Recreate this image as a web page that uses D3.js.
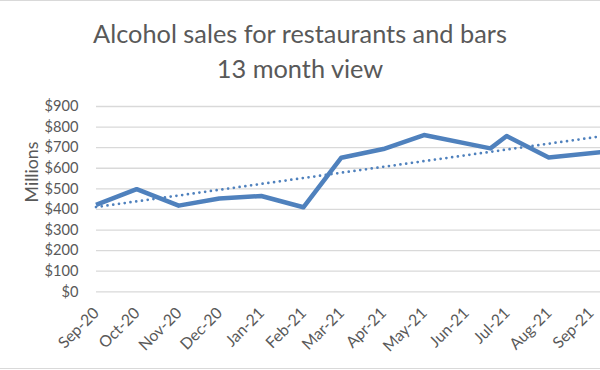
<!DOCTYPE html>
<html lang="en">
<head>
    <meta charset="UTF-8">
    <title>Alcohol sales for restaurants and bars</title>
    <style>
        body {
            margin: 0;
            background: #fff;
        }
        svg {
            display: block;
            font-family: Lato, "Open Sans", sans-serif;
        }
        .grid line {
            stroke: #d9d9d9;
            stroke-width: 1.3px;
        }
        .label {
            fill: #595959;
        }
    </style>
</head>
<body>
    <div id="chart"></div>

    <script src="https://d3js.org/d3.v7.min.js"></script>
    <script>
        // chart data (values in $ millions)
        const dates = ["2020-09-01", "2020-10-01", "2020-11-01", "2020-12-01", "2021-01-01", "2021-02-01",
                       "2021-03-01", "2021-04-01", "2021-05-01", "2021-06-19", "2021-07-01", "2021-08-01", "2021-09-20"];
        const sales = [420, 496, 416, 451, 463, 408, 649, 691, 759, 694, 754, 650, 683];
        const yTicks = [0, 100, 200, 300, 400, 500, 600, 700, 800, 900];
        const titleLines = ["Alcohol sales for restaurants and bars", "13 month view"];
        const axisStart = "2020-09-01";
        const axisEnd = "2021-09-01";

        const width = 600, height = 370;
        const parse = d3.timeParse("%Y-%m-%d");
        const data = dates.map((d, i) => ({ date: parse(d), value: sales[i] }));

        const svg = d3.select("#chart").append("svg")
            .attr("width", width)
            .attr("height", height);

        // frame of the chart (cropped in the original)
        svg.append("rect")
            .attr("x", -5).attr("y", 0.5)
            .attr("width", width + 10).attr("height", 368)
            .attr("fill", "none")
            .attr("stroke", "#d9d9d9");

        // scales
        const x = d3.scaleTime()
            .domain([parse(axisStart), parse(axisEnd)])
            .range([96, 590.7]);
        const y = d3.scaleLinear()
            .domain([0, 900])
            .range([291.3, 106]);

        // scale a font so that a sample text gets a given width
        function fitSize(sample, size, target) {
            const t = svg.append("text").attr("font-size", size).text(sample);
            const w = t.node().getComputedTextLength();
            t.remove();
            return size * target / w;
        }

        // gridlines
        svg.append("g")
            .attr("class", "grid")
            .attr("transform", "translate(96,0)")
            .call(d3.axisLeft(y).tickValues(yTicks).tickSize(-(width - 96 + 10)).tickFormat(""))
            .call(g => g.select(".domain").remove());

        // y tick labels
        const yFont = fitSize("$900", 15, 34);
        svg.append("g")
            .selectAll("text")
            .data(yTicks)
            .join("text")
            .attr("class", "label")
            .attr("x", 78.5)
            .attr("y", d => y(d))
            .attr("dy", "0.36em")
            .attr("text-anchor", "end")
            .attr("font-size", yFont)
            .text(d => d3.format("$,")(d));

        // y axis title
        const mFont = fitSize("Millions", 16, 61);
        svg.append("text")
            .attr("class", "label")
            .attr("transform", "translate(38,172) rotate(-90)")
            .attr("text-anchor", "middle")
            .attr("font-size", mFont)
            .text("Millions");

        // x tick labels, rotated
        const months = d3.timeMonth.range(parse(axisStart), d3.timeDay.offset(parse(axisEnd), 1));
        const xFont = fitSize("Sep-20", 16, 50);
        svg.append("g")
            .selectAll("text")
            .data(months)
            .join("text")
            .attr("class", "label")
            .attr("transform", d => `translate(${x(d) + 4},314) rotate(-45)`)
            .attr("text-anchor", "end")
            .attr("font-size", xFont)
            .text(d3.timeFormat("%b-%y"));

        // linear trendline (least squares on day number)
        const t0 = data[0].date;
        const days = data.map(d => d3.timeDay.count(t0, d.date));
        const mx = d3.mean(days), my = d3.mean(sales);
        const slope = d3.sum(days, (d, i) => (d - mx) * (sales[i] - my)) / d3.sum(days, d => (d - mx) * (d - mx));
        const intercept = my - slope * mx;
        const trend = [data[0].date, data[data.length - 1].date].map(d => ({
            date: d,
            value: intercept + slope * d3.timeDay.count(t0, d)
        }));

        const line = d3.line()
            .x(d => x(d.date))
            .y(d => y(d.value));

        svg.append("path")
            .datum(data)
            .attr("d", line)
            .attr("fill", "none")
            .attr("stroke", "#4f81bd")
            .attr("stroke-width", 4.5)
            .attr("stroke-linejoin", "round");

        svg.append("path")
            .datum(trend)
            .attr("d", line)
            .attr("fill", "none")
            .attr("stroke", "#4f81bd")
            .attr("stroke-width", 2.75)
            .attr("stroke-linecap", "round")
            .attr("stroke-dasharray", "0 5.8");

        // title
        const tFont = fitSize(titleLines[0], 24, 414);
        svg.append("g")
            .selectAll("text")
            .data(titleLines)
            .join("text")
            .attr("class", "label")
            .attr("x", 300)
            .attr("y", (d, i) => 43 + i * 34.5)
            .attr("text-anchor", "middle")
            .attr("font-size", tFont)
            .text(d => d);
    </script>
</body>
</html>
